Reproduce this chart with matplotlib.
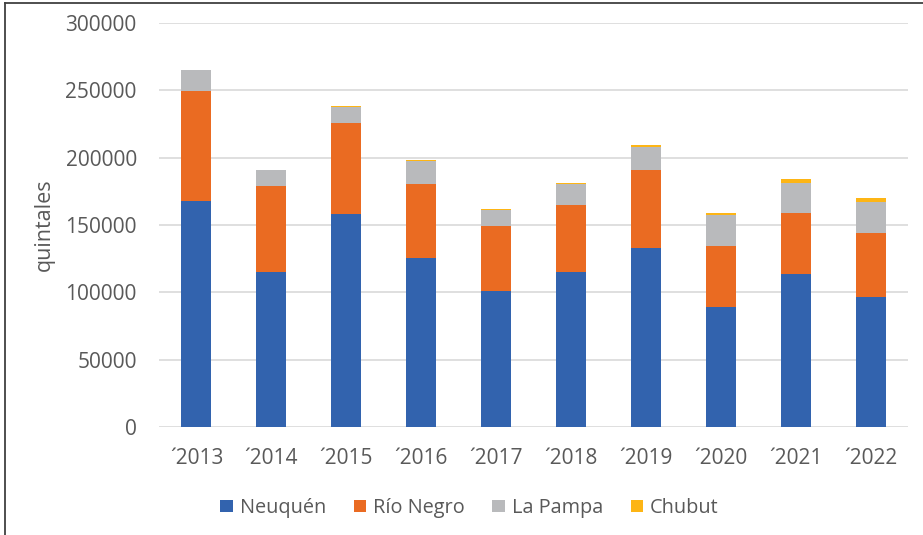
import matplotlib
matplotlib.use("Agg")
import matplotlib.pyplot as plt
from matplotlib.lines import Line2D
import numpy as np

years = ["´2013", "´2014", "´2015", "´2016", "´2017", "´2018", "´2019", "´2020", "´2021", "´2022"]
neuquen = [168000, 115100, 158200, 125500, 100700, 115300, 132900, 89100, 113900, 96300]
rio_negro = [81300, 63900, 67800, 54700, 48600, 49600, 58000, 45300, 45300, 47500]
la_pampa = [16000, 11600, 11400, 17300, 12100, 15600, 17300, 23000, 22200, 23000]
chubut = [0, 600, 800, 800, 500, 700, 1200, 1500, 2800, 3500]

series = [("Neuquén", neuquen, "#3263AE"),
          ("Río Negro", rio_negro, "#EA6B22"),
          ("La Pampa", la_pampa, "#B9BABC"),
          ("Chubut", chubut, "#FDB515")]

plt.rcParams['font.family'] = ['Open Sans', 'DejaVu Sans']
text_color = "#595959"

fig = plt.figure(figsize=(9.23, 5.35), dpi=100)
ax = fig.add_axes([159/923, 1-427/535, (908-159)/923, (427-23)/535])

x = np.arange(len(years))
bottom = np.zeros(len(years))
for name, vals, col in series:
    ax.bar(x, vals, bottom=bottom, width=0.4, color=col, label=name, zorder=3)
    bottom += np.array(vals)

ax.set_xlim(-0.5, len(years) - 0.5)
ax.set_ylim(0, 300000)
ax.set_yticks(np.arange(0, 300001, 50000))
ax.set_yticklabels([str(v) for v in range(0, 300001, 50000)])
ax.set_xticks(x)
ax.set_xticklabels(years)
ax.grid(axis='y', color="#D9D9D9", linewidth=1.2, zorder=0)
for s in ax.spines.values():
    s.set_visible(False)
ax.tick_params(axis='both', length=0, labelsize=15, colors=text_color)
ax.tick_params(axis='x', pad=15)
ax.tick_params(axis='y', pad=16)

fig.text(44/923, 1-225/535, "quintales", rotation=90, ha='center', va='center',
         fontsize=15.5, color=text_color)

leg = fig.legend(loc='center', bbox_to_anchor=(469.5/923, 1-508/535), ncol=4,
                 frameon=False, fontsize=14.3, handlelength=0.62, handleheight=0.62,
                 handletextpad=0.35, columnspacing=1.4)
for t in leg.get_texts():
    t.set_color(text_color)

fig.add_artist(Line2D([5/923, 5/923], [0, 1-3/535], transform=fig.transFigure,
                      color="#404040", linewidth=1.3))
fig.add_artist(Line2D([5/923, 1], [1-3/535, 1-3/535], transform=fig.transFigure,
                      color="#404040", linewidth=1.3))

fig.savefig("out.png", dpi=100)
